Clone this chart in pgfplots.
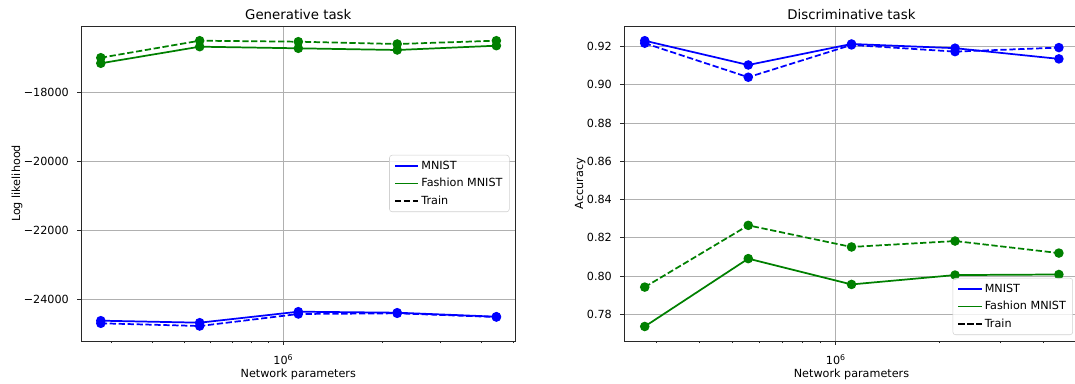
\documentclass[border=0pt]{standalone}
\usepackage{fontspec}
\setmainfont{DejaVu Sans}
\usepackage{pgfplots}
\usepackage{pgfplotstable}
\pgfplotsset{compat=1.18}

\definecolor{mplblue}{RGB}{0,0,255}
\definecolor{mplgreen}{RGB}{0,128,0}
\definecolor{gridgray}{RGB}{176,176,176}
\definecolor{spine}{RGB}{40,40,40}

\newcommand{\tickfont}{\fontsize{8.4}{10}\selectfont}
\newcommand{\titlefont}{\fontsize{10}{12}\selectfont}

% Results: network size vs. log likelihood / accuracy (solid = test, dashed = train)
\pgfplotstableread{
params     mnist    mnisttrain  fashion  fashiontrain
2.78e5    -24621   -24697      -17146   -16984
5.56e5    -24679   -24776      -16664   -16490
1.11e6    -24360   -24427      -16711   -16519
2.22e6    -24389   -24407      -16760   -16586
4.45e6    -24505   -24515      -16635   -16490
}\gentable

\pgfplotstableread{
params     mnist    mnisttrain  fashion  fashiontrain
2.78e5     0.9231   0.9218      0.7736   0.7942
5.56e5     0.9104   0.9040      0.8091   0.8265
1.11e6     0.9214   0.9209      0.7956   0.8152
2.22e6     0.9192   0.9174      0.8005   0.8183
4.45e6     0.9136   0.9195      0.8008   0.8120
}\disctable

% shared look of both panels
\pgfplotsset{
  legend image code/.code={\draw[#1] (0pt,0pt) -- (17.5pt,0pt);},
  every axis/.append style={
    scale only axis,
    tick align=outside,
    tick pos=left,
    major tick length=2.94pt,
    minor tick length=1.68pt,
    grid=major,
    major grid style={gridgray, line width=0.67pt},
    axis line style={spine, line width=0.67pt},
    tick style={spine, line width=0.67pt},
    tick label style={font=\tickfont},
    xticklabel style={anchor=base, yshift=-14.8pt},
    yticklabel style={anchor=east, inner sep=0pt, xshift=-6pt},
    scaled y ticks=false,
    label style={font=\tickfont},
    title style={font=\titlefont, at={(axis description cs:0.5,1)}, anchor=base, yshift=-1pt},
    xlabel style={at={(axis description cs:0.5,-0.116)}, anchor=base},
    legend cell align=left,
    legend style={
      font=\tickfont,
      draw=black!18, fill=white, fill opacity=0.8, text opacity=1,
      rounded corners=2pt,
      inner xsep=3.5pt, inner ysep=2.5pt,
      row sep=1.6pt,
      nodes={inner sep=1.6pt, text height=6.5pt, text depth=1.7pt},
    },
  },
  every axis plot/.append style={line width=1.3pt, mark=*, mark size=2.9pt, mark options={solid}},
}
\tikzset{
  trainline/.style={dash pattern=on 4.7pt off 2pt},
}

\begin{document}
\begin{tikzpicture}
\path[use as bounding box, clip] (0pt,0pt) rectangle (806.25pt,287.25pt);

% Left panel: generative task
\begin{axis}[
  at={(60.75pt,31.5pt)}, anchor=south west,
  width=325.9pt, height=236.25pt,
  xmode=log,
  xmin=2.42e5, xmax=5.09e6,
  xtick={1e6},
  xticklabels={10\textsuperscript{6}},
  minor xtick={3e5,4e5,5e5,6e5,7e5,8e5,9e5,2e6,3e6,4e6,5e6},
  ymin=-25211, ymax=-16063,
  ytick={-24000,-22000,-20000,-18000},
  yticklabels={−24000,−22000,−20000,−18000},
  title={Generative task},
  xlabel={Network parameters},
  ylabel={Log likelihood},
  ylabel style={at={(axis description cs:-0.1404,0.5)}, anchor=base},
  legend style={at={(axis description cs:1,0.5)}, anchor=east, xshift=-4.5pt},
]
\addlegendimage{mplblue, line width=1.3pt}
\addlegendentry{MNIST}
\addlegendimage{mplgreen, line width=1.3pt}
\addlegendentry{Fashion MNIST}
\addlegendimage{black, line width=1.3pt, trainline}
\addlegendentry{Train}
\addplot[mplblue, forget plot] table[x=params, y=mnist] {\gentable};
\addplot[mplblue, trainline, forget plot] table[x=params, y=mnisttrain] {\gentable};
\addplot[mplgreen, forget plot] table[x=params, y=fashion] {\gentable};
\addplot[mplgreen, trainline, forget plot] table[x=params, y=fashiontrain] {\gentable};
\end{axis}

% Right panel: discriminative task
\begin{axis}[
  at={(468pt,31.5pt)}, anchor=south west,
  width=341.2pt, height=236.25pt,
  xmode=log,
  xmin=2.42e5, xmax=5.09e6,
  xtick={1e6},
  xticklabels={10\textsuperscript{6}},
  minor xtick={3e5,4e5,5e5,6e5,7e5,8e5,9e5,2e6,3e6,4e6,5e6},
  ymin=0.7660, ymax=0.9308,
  ytick={0.78,0.80,0.82,0.84,0.86,0.88,0.90,0.92},
  yticklabel style={/pgf/number format/fixed, /pgf/number format/fixed zerofill, /pgf/number format/precision=2, /pgf/number format/assume math mode=true},
  title={Discriminative task},
  xlabel={Network parameters},
  ylabel={Accuracy},
  ylabel style={at={(axis description cs:-0.090,0.5)}, anchor=base},
  legend style={at={(axis description cs:1,0)}, anchor=south east, xshift=-4.5pt, yshift=4.5pt},
]
\addlegendimage{mplblue, line width=1.3pt}
\addlegendentry{MNIST}
\addlegendimage{mplgreen, line width=1.3pt}
\addlegendentry{Fashion MNIST}
\addlegendimage{black, line width=1.3pt, trainline}
\addlegendentry{Train}
\addplot[mplblue, forget plot] table[x=params, y=mnist] {\disctable};
\addplot[mplblue, trainline, forget plot] table[x=params, y=mnisttrain] {\disctable};
\addplot[mplgreen, forget plot] table[x=params, y=fashion] {\disctable};
\addplot[mplgreen, trainline, forget plot] table[x=params, y=fashiontrain] {\disctable};
\end{axis}
\end{tikzpicture}
\end{document}
